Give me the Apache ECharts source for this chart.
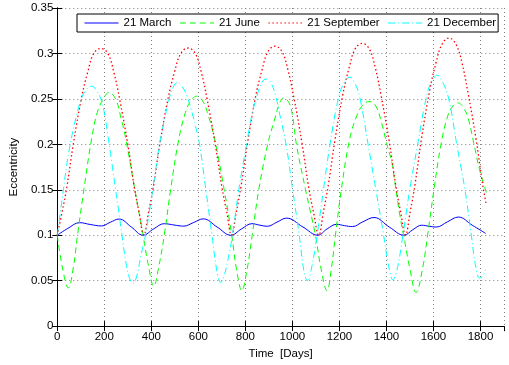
<!DOCTYPE html>
<html>
<head>
<meta charset="UTF-8">
<title>Eccentricity</title>
<style>
  * { margin: 0; padding: 0; }
  html, body { background: #fff; }
  #main { width: 509px; height: 365px; }
</style>
<script src="https://cdn.jsdelivr.net/npm/echarts@6/dist/echarts.min.js"></script>
</head>
<body>
<div id="main"></div>
<script>
// values, [day, eccentricity]
var marchDays = [0, 45, 95, 140, 188, 225, 263, 315, 365, 410, 455, 497, 538, 580, 621, 680, 738,
  783, 828, 862, 893, 935, 975, 1045, 1108, 1148, 1188, 1222, 1255, 1300, 1347, 1412, 1475,
  1512, 1550, 1582, 1612, 1660, 1706, 1765, 1822];
var marchEcc = [0.1, 0.1075, 0.1138, 0.1118, 0.1102, 0.1142, 0.1178, 0.109, 0.1, 0.107, 0.1127, 0.1112, 0.110, 0.114, 0.118, 0.109, 0.1,
  0.1068, 0.1127, 0.111, 0.1098, 0.1145, 0.1188, 0.109, 0.1, 0.107, 0.112, 0.1105, 0.1095, 0.1148, 0.1195, 0.109, 0.1,
  0.106, 0.111, 0.1098, 0.109, 0.1148, 0.120, 0.111, 0.102];

var juneDays = [0, 22, 47, 68, 86, 113, 146, 170, 196, 220, 248, 270, 292, 330, 365, 388,
  410, 432, 455, 482, 517, 545, 568, 593, 618, 642, 669, 710, 742, 762,
  785, 807, 829, 857, 895, 925, 945, 962, 985, 1000, 1017, 1056, 1098, 1122,
  1147, 1165, 1183, 1208, 1243, 1275, 1305, 1330, 1355, 1378, 1402, 1423, 1436, 1457, 1478, 1499,
  1526, 1554, 1575, 1602, 1630, 1658, 1682, 1706, 1728, 1747, 1775, 1796, 1825];
var juneEcc = [0.1, 0.064, 0.042, 0.064, 0.1, 0.15, 0.206, 0.235, 0.25, 0.257, 0.25, 0.23, 0.205, 0.15, 0.1, 0.066,
  0.044, 0.066, 0.1, 0.15, 0.206, 0.235, 0.248, 0.253, 0.248, 0.232, 0.206, 0.15, 0.1, 0.063,
  0.039, 0.062, 0.1, 0.15, 0.2, 0.228, 0.245, 0.251, 0.246, 0.232, 0.2, 0.15, 0.1, 0.063,
  0.039, 0.062, 0.1, 0.15, 0.205, 0.232, 0.245, 0.247, 0.242, 0.225, 0.2, 0.18, 0.158, 0.122, 0.093, 0.064,
  0.037, 0.064, 0.1, 0.15, 0.197, 0.229, 0.242, 0.2455, 0.24, 0.229, 0.197, 0.172, 0.147];

var septDays = [0, 20, 40, 68, 102, 130, 155, 185, 215, 240, 265, 300, 328, 348,
  368, 388, 408, 436, 471, 499, 525, 556, 587, 612, 637, 672, 701, 721,
  741, 761, 781, 809, 843, 871, 896, 926, 956, 981, 1006, 1041, 1069, 1090,
  1112, 1132, 1152, 1180, 1214, 1242, 1267, 1297, 1327, 1352, 1377, 1412, 1440, 1460,
  1481, 1501, 1521, 1549, 1583, 1611, 1636, 1666, 1696, 1721, 1746, 1781, 1809, 1825];
var septEcc = [0.1, 0.125, 0.152, 0.2, 0.25, 0.28, 0.3, 0.3055, 0.3, 0.28, 0.25, 0.2, 0.152, 0.125,
  0.1, 0.125, 0.152, 0.2, 0.25, 0.28, 0.3, 0.306, 0.3, 0.28, 0.25, 0.2, 0.152, 0.125,
  0.1, 0.125, 0.153, 0.201, 0.252, 0.282, 0.302, 0.308, 0.302, 0.282, 0.252, 0.201, 0.153, 0.125,
  0.1, 0.126, 0.154, 0.203, 0.254, 0.285, 0.305, 0.311, 0.305, 0.285, 0.254, 0.203, 0.154, 0.126,
  0.1, 0.126, 0.155, 0.206, 0.258, 0.29, 0.31, 0.317, 0.31, 0.29, 0.258, 0.206, 0.156, 0.133];

var decDays = [0, 13, 26, 40, 55, 80, 105, 126, 147, 167, 185, 200, 215, 232, 248, 262, 275, 292, 308,
  323, 338, 356, 375, 400, 420, 435, 458, 478, 495, 510, 530, 550, 570, 588, 605, 632, 658, 673, 685,
  695, 708, 725, 745, 772, 805, 830, 855, 870, 888, 908, 928, 946, 973, 1001, 1029, 1045, 1055,
  1065, 1080, 1105, 1132, 1160, 1195, 1220, 1245, 1268, 1288, 1322, 1355, 1388, 1405, 1417,
  1426, 1445, 1470, 1499, 1533, 1568, 1590, 1616, 1640, 1665, 1699, 1734, 1761, 1780, 1796, 1810, 1822];
var decEcc = [0.1, 0.125, 0.15, 0.177, 0.2, 0.23, 0.252, 0.261, 0.264, 0.259, 0.25, 0.235, 0.21, 0.18, 0.15, 0.125, 0.1, 0.07, 0.052,
  0.047, 0.055, 0.078, 0.1, 0.14, 0.175, 0.2, 0.23, 0.252, 0.264, 0.268, 0.264, 0.254, 0.238, 0.22, 0.2, 0.15, 0.1, 0.07, 0.053,
  0.048, 0.054, 0.072, 0.1, 0.15, 0.2, 0.235, 0.258, 0.268, 0.272, 0.268, 0.254, 0.233, 0.2, 0.15, 0.1, 0.067, 0.054,
  0.05, 0.062, 0.1, 0.15, 0.2, 0.25, 0.268, 0.274, 0.266, 0.25, 0.2, 0.15, 0.1, 0.072, 0.057,
  0.051, 0.062, 0.1, 0.15, 0.2, 0.25, 0.268, 0.276, 0.268, 0.25, 0.2, 0.15, 0.1, 0.065, 0.053, 0.055, 0.062];

function pairs(days, ecc) {
  return days.map(function (d, i) { return [d, ecc[i]]; });
}

var font = 'Liberation Sans, Arial, Helvetica, sans-serif';
var gridLine = { show: true, lineStyle: { color: '#808080', type: [1, 3], width: 1 } };
var tick = { show: true, inside: true, length: 5, lineStyle: { color: '#000' } };
var axLine = { show: true, lineStyle: { color: '#000', width: 1 } };

var myChart = echarts.init(document.getElementById('main'));
var option = {
  animation: false,
  backgroundColor: '#fff',
  textStyle: { fontFamily: font },
  grid: { left: 47, right: 5, top: 8, bottom: 32, containLabel: false },
  legend: {
    show: true,
    left: 77, top: 14,
    width: 428,
    padding: [3, 2, 3, 7],
    itemGap: 8,
    itemWidth: 34,
    itemHeight: 13,
    backgroundColor: '#fff',
    borderColor: '#000',
    borderWidth: 1,
    itemStyle: { opacity: 0 },
    lineStyle: { width: 1 },
    textStyle: { fontSize: 11.5, color: '#000', fontFamily: font },
    data: ['21 March', '21 June', '21 September', '21 December']
  },
  xAxis: [{
    type: 'value', min: 0, max: 1900, interval: 200,
    name: 'Time  [Days]', nameLocation: 'middle', nameGap: 17,
    nameTextStyle: { fontSize: 11.5, color: '#000' },
    axisLine: axLine, axisTick: tick, splitLine: gridLine,
    axisLabel: {
      fontSize: 11.5, color: '#000', margin: 5, showMaxLabel: false,
      formatter: function (v) { return String(v); }
    }
  }, {
    type: 'value', min: 0, max: 1900, interval: 200, position: 'top',
    axisLine: axLine, axisTick: tick, splitLine: { show: false },
    axisLabel: { show: false }
  }],
  yAxis: [{
    type: 'value', min: 0, max: 0.35, interval: 0.05,
    name: 'Eccentricity', nameLocation: 'middle', nameGap: 34, nameRotate: 90,
    nameTextStyle: { fontSize: 11.5, color: '#000' },
    axisLine: axLine, axisTick: tick, splitLine: gridLine,
    axisLabel: { fontSize: 11.5, color: '#000', margin: 4 }
  }, {
    type: 'value', min: 0, max: 0.35, interval: 0.05, position: 'right',
    axisLine: axLine, axisTick: tick, splitLine: { show: false },
    axisLabel: { show: false }
  }],
  series: [{
    name: '21 March', type: 'line', symbol: 'none', smooth: 0.4,
    data: pairs(marchDays, marchEcc),
    itemStyle: { color: '#0000ff' },
    lineStyle: { color: '#0000ff', width: 1 }
  }, {
    name: '21 June', type: 'line', symbol: 'none', smooth: 0.4,
    data: pairs(juneDays, juneEcc),
    itemStyle: { color: '#00ff00' },
    lineStyle: { color: '#00ff00', width: 1, type: [6, 4] }
  }, {
    name: '21 September', type: 'line', symbol: 'none', smooth: 0.4,
    data: pairs(septDays, septEcc),
    itemStyle: { color: '#ff0000' },
    lineStyle: { color: '#ff0000', width: 1.3, type: [1.5, 2.5] }
  }, {
    name: '21 December', type: 'line', symbol: 'none', smooth: 0.4,
    data: pairs(decDays, decEcc),
    itemStyle: { color: '#00ffff' },
    lineStyle: { color: '#00ffff', width: 1, type: [7, 3, 1, 3] }
  }]
};
myChart.setOption(option);
</script>
</body>
</html>
